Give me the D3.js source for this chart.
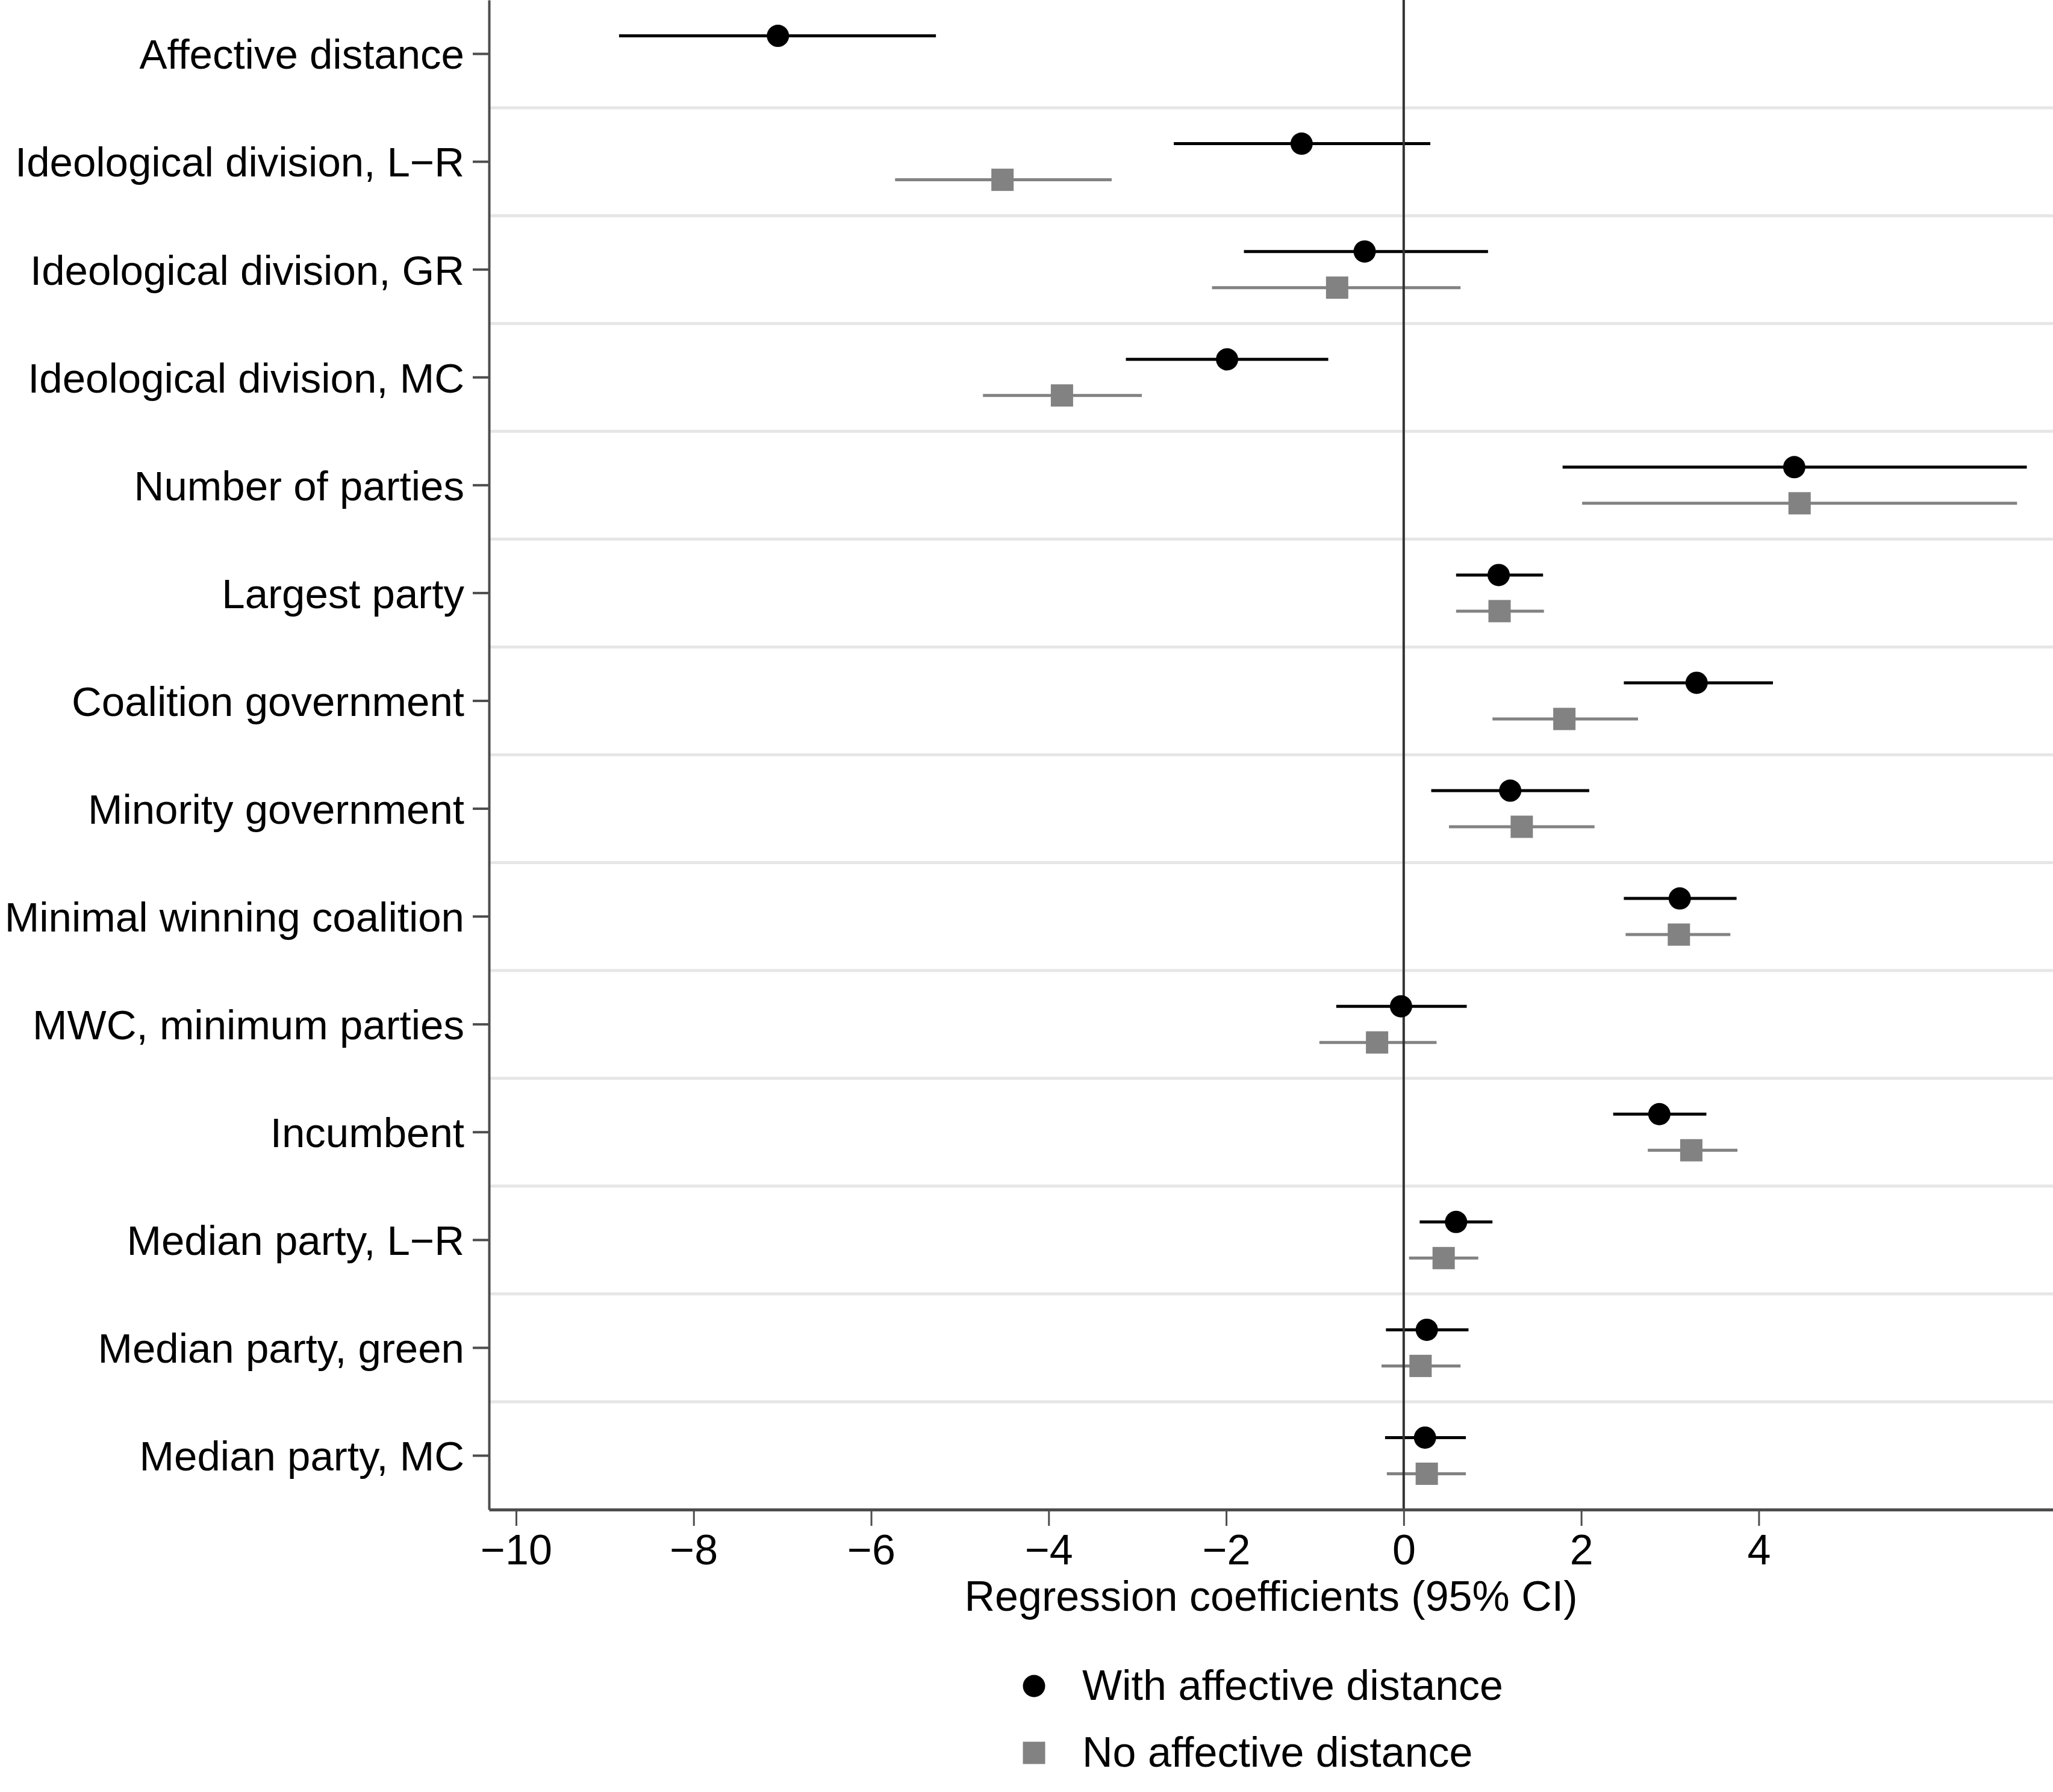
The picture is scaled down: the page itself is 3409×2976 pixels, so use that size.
<!DOCTYPE html>
<html>
<head>
<meta charset="utf-8">
<script src="https://cdn.jsdelivr.net/npm/d3@7"></script>
<style>
  html, body { margin: 0; padding: 0; background: #fff; }
  svg { display: block; }
  text { font-family: "Liberation Sans", Arial, Helvetica, sans-serif; }
</style>
</head>
<body>
<svg id="chart" width="3409" height="2976"></svg>
<script>
// ---- Data ----
const categories = [
  "Affective distance",
  "Ideological division, L\u2212R",
  "Ideological division, GR",
  "Ideological division, MC",
  "Number of parties",
  "Largest party",
  "Coalition government",
  "Minority government",
  "Minimal winning coalition",
  "MWC, minimum parties",
  "Incumbent",
  "Median party, L\u2212R",
  "Median party, green",
  "Median party, MC"
];
const withCoef = [-7.05, -1.15, -0.44, -1.99, 4.40, 1.07, 3.30, 1.20, 3.11, -0.03, 2.88, 0.59, 0.26, 0.24];
const withLo   = [-8.84, -2.59, -1.80, -3.13, 1.79, 0.59, 2.48, 0.31, 2.48, -0.76, 2.36, 0.18, -0.20, -0.21];
const withHi   = [-5.27,  0.30,  0.95, -0.85, 7.02, 1.57, 4.16, 2.09, 3.75,  0.71, 3.41, 1.00,  0.73,  0.70];
const noCoef   = [null, -4.52, -0.75, -3.85, 4.46, 1.08, 1.81, 1.33, 3.10, -0.30, 3.24, 0.45, 0.19, 0.26];
const noLo     = [null, -5.73, -2.16, -4.74, 2.01, 0.59, 1.00, 0.51, 2.50, -0.95, 2.75, 0.06, -0.25, -0.19];
const noHi     = [null, -3.29,  0.64, -2.95, 6.91, 1.58, 2.64, 2.15, 3.68,  0.37, 3.76, 0.84,  0.64,  0.70];
const xTicks = [-10, -8, -6, -4, -2, 0, 2, 4];
const seriesNames = ["With affective distance", "No affective distance"];
const xTitle = "Regression coefficients (95% CI)";

// ---- Layout ----
const W = 3409, H = 2976;
const plotL = 812, plotR = 3409, plotT = 0, plotB = 2507;
const fontSize = 70, yFontSize = 69;
const blackC = "#000000", grayC = "#828282", axisC = "#4d4d4d";

const svg = d3.select("#chart");

const x = d3.scaleLinear().domain([-10.305, 7.315]).range([plotL, plotR]);
const y = d3.scaleBand().domain(categories).range([plotT, plotB]).padding(0);
const off = 30;

const withData = categories.map((c, i) => ({cat: c, v: withCoef[i], lo: withLo[i], hi: withHi[i]}));
const noData = categories.map((c, i) => ({cat: c, v: noCoef[i], lo: noLo[i], hi: noHi[i]})).filter(d => d.v !== null);

// separators between rows
svg.append("g").selectAll("line")
  .data(categories.slice(1))
  .join("line")
  .attr("x1", plotL).attr("x2", plotR)
  .attr("y1", d => y(d)).attr("y2", d => y(d))
  .attr("stroke", "#e6e6e6").attr("stroke-width", 5);

// CI lines
svg.append("g").selectAll("line")
  .data(withData)
  .join("line")
  .attr("x1", d => x(d.lo)).attr("x2", d => x(d.hi))
  .attr("y1", d => y(d.cat) + y.bandwidth() / 2 - off)
  .attr("y2", d => y(d.cat) + y.bandwidth() / 2 - off)
  .attr("stroke", blackC).attr("stroke-width", 5);

svg.append("g").selectAll("line")
  .data(noData)
  .join("line")
  .attr("x1", d => x(d.lo)).attr("x2", d => x(d.hi))
  .attr("y1", d => y(d.cat) + y.bandwidth() / 2 + off)
  .attr("y2", d => y(d.cat) + y.bandwidth() / 2 + off)
  .attr("stroke", grayC).attr("stroke-width", 5);

// zero line
svg.append("line")
  .attr("x1", x(0)).attr("x2", x(0))
  .attr("y1", plotT).attr("y2", plotB)
  .attr("stroke", "#333333").attr("stroke-width", 4);

// markers
const r = 18.5, sq = 37;
svg.append("g").selectAll("circle")
  .data(withData)
  .join("circle")
  .attr("cx", d => x(d.v))
  .attr("cy", d => y(d.cat) + y.bandwidth() / 2 - off)
  .attr("r", r)
  .attr("fill", blackC);

svg.append("g").selectAll("rect")
  .data(noData)
  .join("rect")
  .attr("x", d => x(d.v) - sq / 2)
  .attr("y", d => y(d.cat) + y.bandwidth() / 2 + off - sq / 2)
  .attr("width", sq).attr("height", sq)
  .attr("fill", grayC);

// Y axis
const yAxis = svg.append("g")
  .attr("transform", `translate(${plotL},0)`)
  .call(d3.axisLeft(y).tickSize(27).tickPadding(14).tickSizeOuter(0));
yAxis.select(".domain").attr("stroke", axisC).attr("stroke-width", 4);
yAxis.selectAll(".tick line").attr("stroke", axisC).attr("stroke-width", 4);
yAxis.selectAll(".tick text")
  .attr("font-size", yFontSize)
  .attr("font-family", "'Liberation Sans', Arial, Helvetica, sans-serif")
  .attr("fill", "#000")
  .attr("dy", "0.36em");

// X axis
const xAxis = svg.append("g")
  .attr("transform", `translate(0,${plotB})`)
  .call(d3.axisBottom(x).tickValues(xTicks).tickSize(27).tickPadding(14).tickSizeOuter(0));
xAxis.select(".domain").attr("stroke", axisC).attr("stroke-width", 5);
xAxis.selectAll(".tick line").attr("stroke", axisC).attr("stroke-width", 3);
xAxis.selectAll(".tick text")
  .attr("font-size", fontSize)
  .attr("font-family", "'Liberation Sans', Arial, Helvetica, sans-serif")
  .attr("fill", "#000");

// X title
svg.append("text")
  .attr("x", (plotL + plotR) / 2)
  .attr("y", 2675)
  .attr("text-anchor", "middle")
  .attr("font-size", fontSize)
  .attr("fill", "#000")
  .text(xTitle);

// Legend
const lg = svg.append("g");
lg.append("circle").attr("cx", 1717).attr("cy", 2800).attr("r", r).attr("fill", blackC);
lg.append("text").attr("x", 1797).attr("y", 2823).attr("font-size", fontSize).attr("fill", "#000").text(seriesNames[0]);
lg.append("rect").attr("x", 1717 - sq / 2).attr("y", 2911 - sq / 2).attr("width", sq).attr("height", sq).attr("fill", grayC);
lg.append("text").attr("x", 1797).attr("y", 2934).attr("font-size", fontSize).attr("fill", "#000").text(seriesNames[1]);
</script>
</body>
</html>
